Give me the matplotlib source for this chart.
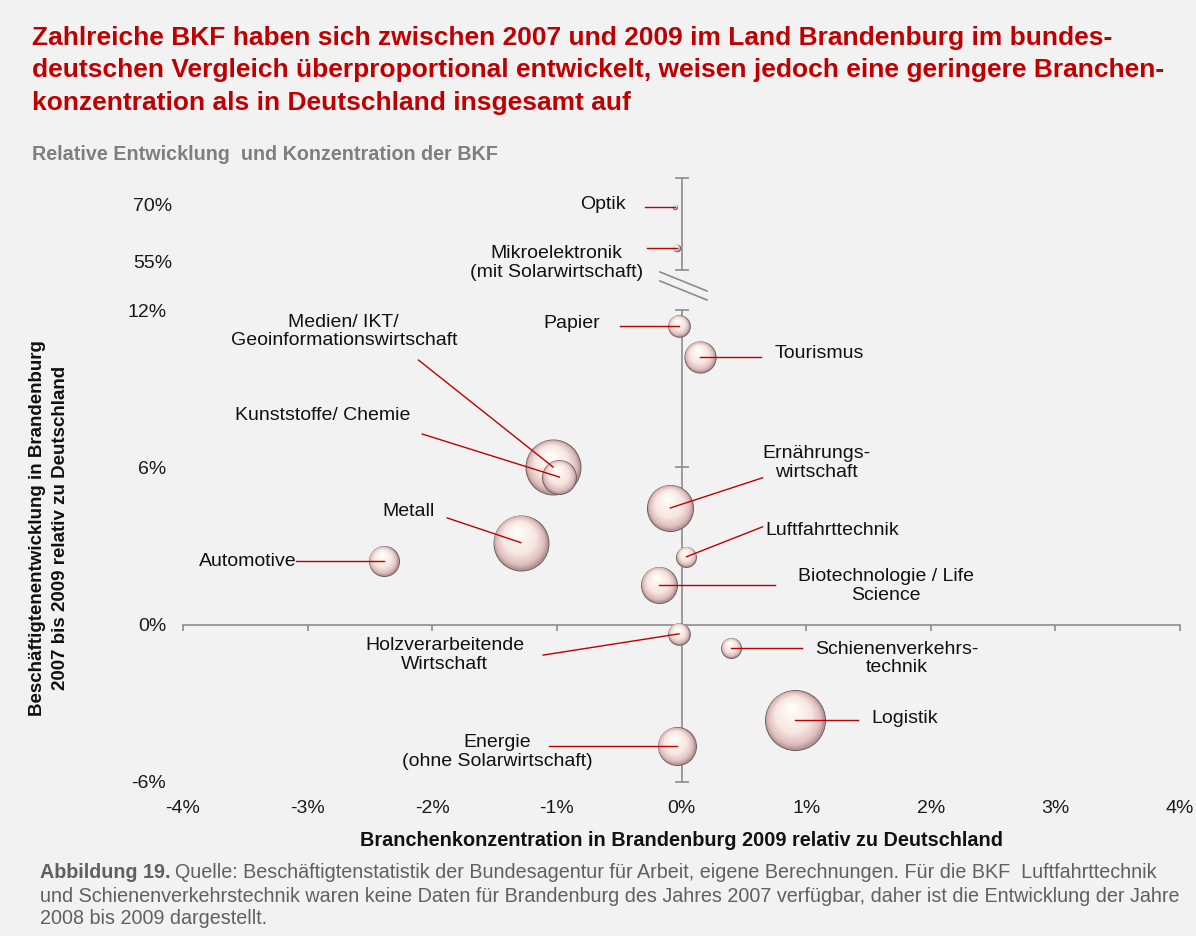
import numpy as np
import matplotlib
matplotlib.use("Agg")
import matplotlib.pyplot as plt
from matplotlib.transforms import ScaledTranslation
from matplotlib.lines import Line2D

plt.rcParams['font.family'] = ['Liberation Sans', 'DejaVu Sans']

# ---------------- data ----------------
branchen = ["Papier", "Tourismus", "Medien", "Kunststoffe", "Metall", "Ernaehrung",
            "Luftfahrt", "Biotech", "Automotive", "Holz", "Schiene", "Logistik", "Energie"]
konzentration = [-0.02, 0.15, -1.03, -0.98, -1.29, -0.09, 0.04, -0.18, -2.39, -0.02, 0.40, 0.91, -0.04]
entwicklung = [11.39, 10.21, 6.01, 5.63, 3.13, 4.45, 2.59, 1.52, 2.43, -0.35, -0.89, -3.64, -4.63]
groesse = [13, 27, 84, 32, 84, 59, 11, 36, 25, 13, 11, 100, 40]

labels = ["Papier", "Tourismus", "Medien/ IKT/\nGeoinformationswirtschaft", "Kunststoffe/ Chemie",
          "Metall", "Ernährungs-\nwirtschaft", "Luftfahrttechnik", "Biotechnologie / Life\nScience",
          "Automotive", "Holzverarbeitende\nWirtschaft", "Schienenverkehrs-\ntechnik", "Logistik",
          "Energie\n(ohne Solarwirtschaft)"]

# upper (broken) section
branchen_oben = ["Optik", "Mikroelektronik"]
konzentration_oben = [-0.05, -0.04]
entwicklung_oben = [69.5, 58.7]
groesse_oben = [0.5, 1.2]
labels_oben = ["Optik", "Mikroelektronik\n(mit Solarwirtschaft)"]

x_ticks = [-4, -3, -2, -1, 0, 1, 2, 3, 4]
x_ticklabels = ["-4%", "-3%", "-2%", "-1%", "0%", "1%", "2%", "3%", "4%"]
y_ticks = [-6, 0, 6, 12]
y_ticklabels = ["-6%", "0%", "6%", "12%"]
y_ticks_oben = [55, 70]
y_ticklabels_oben = ["55%", "70%"]

# label placement (text position, alignment, connector start) - layout only
label_pos = [(-0.65, 11.5, 'right'), (0.75, 10.36, 'left'), (-2.71, 11.18, 'center'),
             (-2.88, 7.96, 'center'), (-2.19, 4.30, 'center'), (1.08, 6.15, 'center'),
             (0.67, 3.61, 'left'), (1.64, 1.46, 'center'), (-3.09, 2.39, 'right'),
             (-1.90, -1.17, 'center'), (1.73, -1.29, 'center'), (1.52, -3.56, 'left'),
             (-1.48, -4.87, 'center')]
line_start = [(-0.49, 11.39), (0.64, 10.21), (-2.11, 10.09), (-2.08, 7.27), (-1.88, 4.07),
              (0.65, 5.60), (0.65, 3.73), (0.75, 1.52), (-3.09, 2.43), (-1.11, -1.16),
              (0.97, -0.89), (1.42, -3.64), (-1.06, -4.63)]
label_pos_oben = [(-0.45, 70.0, 'right'), (-1.0, 54.7, 'center')]
line_start_oben = [(-0.29, 69.5), (-0.28, 58.7)]

# ---------------- figure ----------------
W, H = 1196, 936
BG = '#f2f2f2'
RED = '#c00000'
AXC = '#8c8c8c'
fig = plt.figure(figsize=(W / 100, H / 100), dpi=100, facecolor=BG)


def fr(x0, y0, x1, y1):
    return [x0 / W, 1 - y1 / H, (x1 - x0) / W, (y1 - y0) / H]


ax = fig.add_axes(fr(183, 310, 1180, 782))
ax_o = fig.add_axes(fr(183, 170, 1180, 280))
for a in (ax, ax_o):
    a.set_facecolor('none')
    for s in a.spines.values():
        s.set_visible(False)
    a.set_xlim(-4, 4)

ax.set_ylim(-6, 12)
ax_o.set_ylim(50.26, 79.21)

ax.set_xticks(x_ticks, x_ticklabels)
ax.set_yticks(y_ticks, y_ticklabels)
ax.tick_params(axis='both', length=0, labelsize=14, colors='#1a1a1a')
ax.tick_params(axis='y', pad=12)
ax.tick_params(axis='x', pad=13)
ax_o.set_xticks([])
ax_o.set_yticks(y_ticks_oben, y_ticklabels_oben)
ax_o.tick_params(axis='y', length=0, labelsize=14, colors='#1a1a1a', pad=8)

# axis lines
ax.plot([x_ticks[0], x_ticks[-1]], [0, 0], color=AXC, lw=1.2, zorder=1, clip_on=False)
ax.plot(x_ticks, np.zeros(len(x_ticks)), ls='none', marker=3, ms=4.5, mew=1.2, color=AXC,
        zorder=1, clip_on=False)
ax.plot([0, 0], [y_ticks[0], y_ticks[-1]], color=AXC, lw=1.2, zorder=1, clip_on=False)
yt_nz = [v for v in y_ticks if v != 0]
ax.plot(np.zeros(len(yt_nz)), yt_nz, ls='none', marker='_', ms=10, mew=1.2, color=AXC,
        zorder=1, clip_on=False)
ob_range = [52.9, 77.1]
ax_o.plot([0, 0], ob_range, color=AXC, lw=1.2, zorder=1, clip_on=False)
ax_o.plot([0, 0], ob_range, ls='none', marker='_', ms=10, mew=1.2, color=AXC, zorder=1,
          clip_on=False)

# break marks
for yy in (272, 281):
    fig.add_artist(Line2D([660 / W, 707 / W], [1 - yy / H, 1 - (yy + 19) / H],
                          color=AXC, lw=1.2))

# ---------------- bubbles ----------------
stops_t = [0.0, 0.12, 0.42, 1.0]
stops_c = np.array([[0.70, 0.59, 0.59],
                    [0.87, 0.74, 0.74],
                    [0.96, 0.90, 0.88],
                    [1.00, 0.99, 0.97]])


def ramp(t):
    return [np.interp(t, stops_t, stops_c[:, k]) for k in range(3)]


def bubble(a, x, y, size, z):
    r = 30 * np.sqrt(size / 100.0)  # radius in px
    n = 20
    for i in range(n):
        t = i / (n - 1)
        rr = r * (1 - 0.88 * t)
        dx = -0.12 * r * t * 0.72 / 72
        dy = 0.40 * r * t * 0.72 / 72
        tr = a.transData + ScaledTranslation(dx, dy, fig.dpi_scale_trans)
        a.scatter([x], [y], s=(2 * rr * 0.72) ** 2, color=ramp(t),
                  edgecolors='#6e6060' if i == 0 else 'none',
                  linewidths=0.7 if i == 0 else 0,
                  transform=tr, zorder=z, clip_on=False)


order = np.argsort(groesse)[::-1]
for k, idx in enumerate(order):
    bubble(ax, konzentration[idx], entwicklung[idx], groesse[idx], 2 + k * 0.01)
for i in range(len(branchen_oben)):
    bubble(ax_o, konzentration_oben[i], entwicklung_oben[i], groesse_oben[i], 2)

# ---------------- labels + connectors ----------------
for i in range(len(branchen)):
    tx, ty, ha = label_pos[i]
    ax.text(tx, ty, labels[i], ha=ha, va='center', fontsize=14, color='#111111',
            linespacing=1.15, multialignment='center')
    sx, sy = line_start[i]
    ax.plot([sx, konzentration[i]], [sy, entwicklung[i]], color=RED, lw=1.0, zorder=5,
            clip_on=False)
for i in range(len(branchen_oben)):
    tx, ty, ha = label_pos_oben[i]
    ax_o.text(tx, ty, labels_oben[i], ha=ha, va='center', fontsize=14, color='#111111',
              linespacing=1.15, multialignment='center')
    sx, sy = line_start_oben[i]
    ax_o.plot([sx, konzentration_oben[i]], [sy, entwicklung_oben[i]], color=RED, lw=1.0,
              zorder=5, clip_on=False)

# ---------------- texts ----------------
title = ["Zahlreiche BKF haben sich zwischen 2007 und 2009 im Land Brandenburg im bundes-",
         "deutschen Vergleich überproportional entwickelt, weisen jedoch eine geringere Branchen-",
         "konzentration als in Deutschland insgesamt auf"]
for j, line in enumerate(title):
    fig.text(32 / W, 1 - (38 + 32.5 * j) / H, line, ha='left', va='center', fontsize=19,
             fontweight='bold', color=RED)

fig.text(32 / W, 1 - 155 / H, "Relative Entwicklung  und Konzentration der BKF", ha='left',
         va='center', fontsize=14.2, fontweight='bold', color='#7f7f7f')

fig.text(681.5 / W, 1 - 841 / H,
         "Branchenkonzentration in Brandenburg 2009 relativ zu Deutschland",
         ha='center', va='center', fontsize=14.3, fontweight='bold', color='#111111')
fig.text(49 / W, 1 - 528 / H,
         "Beschäftigtenentwicklung in Brandenburg\n2007 bis 2009 relativ zu Deutschland",
         ha='center', va='center', rotation=90, fontsize=13.5, fontweight='bold',
         color='#111111', linespacing=1.4)

CAPC = '#606060'
CAPFS = 14.2
t_b = fig.text(40 / W, 1 - 873 / H, "Abbildung 19.", ha='left', va='center', fontsize=CAPFS,
               fontweight='bold', color=CAPC)
r = fig.canvas.get_renderer()
bb = t_b.get_window_extent(r)
fig.text((bb.x1 + 4) / W, 1 - 873 / H,
         "Quelle: Beschäftigtenstatistik der Bundesagentur für Arbeit, eigene Berechnungen. "
         "Für die BKF  Luftfahrttechnik",
         ha='left', va='center', fontsize=CAPFS, color=CAPC)
fig.text(40 / W, 1 - 896 / H,
         "und Schienenverkehrstechnik waren keine Daten für Brandenburg des Jahres 2007 "
         "verfügbar, daher ist die Entwicklung der Jahre",
         ha='left', va='center', fontsize=CAPFS, color=CAPC)
fig.text(40 / W, 1 - 918 / H, "2008 bis 2009 dargestellt.", ha='left', va='center',
         fontsize=CAPFS, color=CAPC)

fig.savefig("out.png", dpi=100, facecolor=BG)
